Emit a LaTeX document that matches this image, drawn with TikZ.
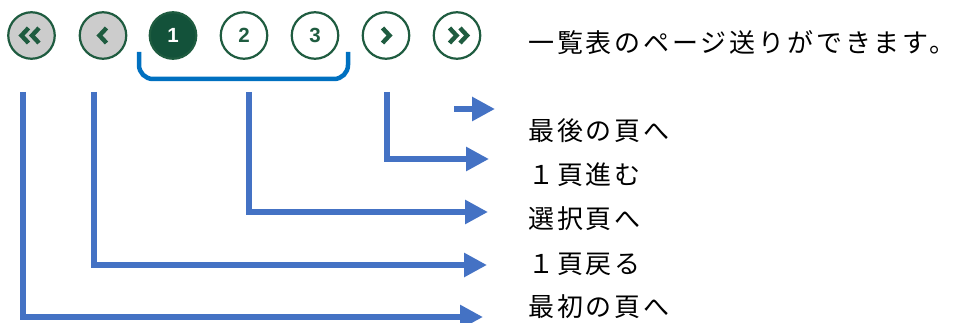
\documentclass[tikz,border=0pt]{standalone}
\usepackage{fontspec}
\newfontfamily\jpfont[LetterSpace=11]{Noto Sans CJK JP}
\newfontfamily\numfont{Liberation Sans}
\usetikzlibrary{arrows.meta}
\definecolor{pgGreen}{HTML}{1F5C40}
\definecolor{pgDark}{HTML}{13523A}
\definecolor{pgGray}{HTML}{CCCCCC}
\definecolor{ptrBlue}{HTML}{4472C4}
\definecolor{brBlue}{HTML}{0070C0}

\begin{document}
\begin{tikzpicture}[x=1pt,y=-1pt,
	pagebtn/.style={circle,draw=pgGreen,line width=2.2pt,minimum size=46.5pt,inner sep=0pt,fill=white,text=pgGreen,font=\numfont\bfseries\fontsize{20.5}{20.5}\selectfont},
	navbtn/.style={pagebtn,fill=pgGray},
	curbtn/.style={pagebtn,fill=pgDark,text=white},
	chev/.style={draw=pgGreen,line width=4.4pt},
	ptr/.style={draw=ptrBlue,line width=6pt,-{Triangle[length=23pt,width=23pt]}},
	lbl/.style={anchor=west,inner sep=0pt,font=\jpfont\fontsize{26}{26}\selectfont}]
	\useasboundingbox (0,0) rectangle (955,323);
	% page buttons
	\node[navbtn] (first) at (31.5,35.5) {};
	\node[navbtn] (prev)  at (103,35.5) {};
	\node[curbtn] (p1)    at (173,35.5) {1};
	\node[pagebtn] (p2)   at (244,35.5) {2};
	\node[pagebtn] (p3)   at (315,35.5) {3};
	\node[pagebtn] (next) at (386,35.5) {};
	\node[pagebtn] (last) at (457,35.5) {};
	% chevrons
	\draw[chev] (first.center) ++(-3,-7.5) -- ++(-7,7.5) -- ++(7,7.5);
	\draw[chev] (first.center) ++(7.5,-7.5) -- ++(-7,7.5) -- ++(7,7.5);
	\draw[chev] (prev.center)  ++(3.5,-7.5) -- ++(-7,7.5) -- ++(7,7.5);
	\draw[chev] (next.center)  ++(-3.5,-7.5) -- ++(7,7.5) -- ++(-7,7.5);
	\draw[chev] (last.center)  ++(-7.5,-7.5) -- ++(7,7.5) -- ++(-7,7.5);
	\draw[chev] (last.center)  ++(3,-7.5) -- ++(7,7.5) -- ++(-7,7.5);
	% bracket under page numbers
	\draw[brBlue,line width=4.5pt,rounded corners=14pt] (139,52) -- (139,79) -- (348,79) -- (348,52);

	\node[lbl] (tTitle) at (528,43)  {一覧表のページ送りができます。};
	\node[lbl] (tLast)  at (528,131) {最後の頁へ};
	\node[lbl] (tNext)  at (528,175) {１頁進む};
	\node[lbl] (tSel)   at (528,219) {選択頁へ};
	\node[lbl] (tPrev)  at (528,264) {１頁戻る};
	\node[lbl] (tFirst) at (528,307) {最初の頁へ};

	\coordinate (sLast)  at (454,109); \coordinate (eLast)  at (495,109);
	\coordinate (sNext)  at (387,92);  \coordinate (eNext)  at (489,159);
	\coordinate (sSel)   at (249,92);  \coordinate (eSel)   at (488,212);
	\coordinate (sPrev)  at (94,92);   \coordinate (ePrev)  at (487,265);
	\coordinate (sFirst) at (23,92);   \coordinate (eFirst) at (483,317);
	\draw[ptr] (sLast) -- (eLast);
	\draw[ptr] (sNext) |- (eNext);
	\draw[ptr] (sSel) |- (eSel);
	\draw[ptr] (sPrev) |- (ePrev);
	\draw[ptr] (sFirst) |- (eFirst);
\end{tikzpicture}
\end{document}
